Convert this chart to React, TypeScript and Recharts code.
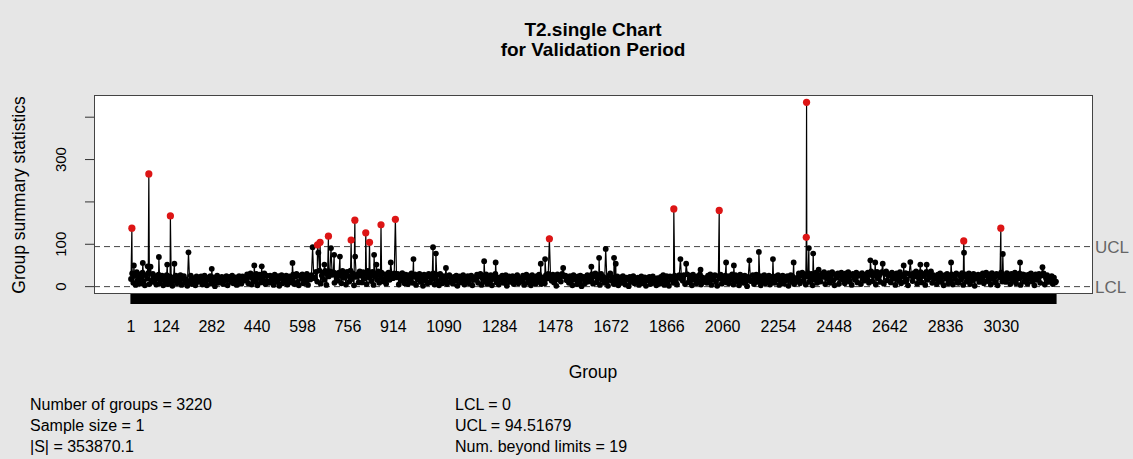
import React from "react";
import { ComposedChart, Line, XAxis, YAxis, ReferenceLine } from "recharts";

// ---- data ----
const N_GROUPS = 3220;
const UCL = 94.51679;
const LCL = 0;
const X_TICK_LABELS = [1, 124, 282, 440, 598, 756, 914, 1090, 1284, 1478, 1672, 1866, 2060, 2254, 2448, 2642, 2836, 3030];
const Y_TICKS = [0, 100, 200, 300, 400];
const Y_TICK_LABELS = [0, 100, 300];

// dense body of the chart, one reading every BASE_STEP groups starting at group 1
const BASE_START = 1;
const BASE_STEP = 4;
const BASE_VALUES = [
  18,31,9,26,4,34,15,29,7,22,33,12,3,27,19,32,6,24,14,30,
  11,25,5,20,28,8,16,26,3,22,13,27,6,18,24,10,2,21,15,26,
  8,22,14,27,4,19,25,9,17,2,23,12,26,6,20,15,3,24,11,21,
  13,24,5,19,26,10,3,21,16,25,7,14,22,1,18,26,9,20,12,23,
  6,21,15,25,3,18,23,11,26,8,16,22,4,19,25,12,7,24,14,20,
  17,29,8,23,31,5,19,27,12,30,3,21,28,10,24,15,31,6,26,13,
  9,26,14,22,4,28,17,11,25,2,20,27,8,23,13,26,5,19,24,10,
  15,28,6,24,30,11,3,26,19,29,8,22,14,30,4,25,17,27,9,21,
  20,35,12,29,38,7,26,33,16,37,4,30,24,36,11,28,34,9,31,22,
  14,33,27,8,37,21,30,5,35,25,12,38,18,31,3,34,23,29,10,36,
  26,10,34,19,31,6,37,22,28,13,35,4,30,24,16,36,9,27,33,18,
  12,29,7,24,33,16,3,27,20,31,9,22,30,5,26,14,32,18,8,28,
  19,6,27,14,31,9,23,29,4,25,17,30,11,21,2,28,15,24,8,30,
  10,26,18,31,5,22,28,13,3,30,20,8,25,16,29,6,23,27,12,19,
  7,23,14,26,2,19,24,10,17,27,5,21,12,25,8,20,26,3,16,22,
  16,28,9,24,30,4,20,26,12,29,7,22,15,27,3,25,18,30,10,21,
  5,22,17,26,9,14,27,2,20,24,11,18,25,6,23,13,27,8,19,15,
  12,26,4,21,28,9,17,24,3,27,14,20,7,25,11,28,16,6,22,18,
  8,27,19,30,5,23,14,28,10,25,2,29,17,21,12,30,6,24,26,15,
  20,9,25,14,3,27,17,22,6,24,11,26,1,19,23,8,15,27,12,21,
  13,29,7,24,31,10,20,27,4,30,16,23,9,28,18,2,26,31,14,22,
  6,20,12,24,3,17,22,9,25,14,5,21,18,1,23,11,16,25,8,19,
  10,21,4,17,24,8,13,22,2,19,15,23,6,12,24,9,18,3,20,14,
  7,23,15,27,4,19,25,11,2,24,17,21,9,26,13,5,22,27,12,18,
  14,27,6,23,29,10,18,26,3,28,16,21,8,25,12,29,5,22,19,11,
  20,9,26,15,29,4,23,17,27,11,2,25,19,28,7,22,14,26,10,24,
  8,25,17,29,5,21,27,12,19,3,28,14,24,9,26,16,1,23,29,13,
  15,27,6,22,28,11,18,25,3,24,13,27,8,20,16,26,5,23,10,21,
  9,24,17,27,4,20,12,26,7,22,15,25,2,19,27,11,23,6,18,14,
  21,31,8,26,33,14,29,5,24,32,11,19,30,3,27,16,33,9,25,20,
  12,30,23,34,6,27,18,32,9,25,34,15,3,29,21,31,7,26,33,17,
  24,8,31,19,34,12,27,4,30,22,16,33,10,26,29,6,32,20,14,28,
  17,33,9,28,36,13,25,31,5,35,20,27,11,34,23,7,30,36,15,26,
  29,10,33,19,26,4,31,22,14,34,8,27,24,12,32,17,3,30,21,25,
  13,32,24,36,7,28,19,34,10,30,25,4,35,16,29,22,36,9,27,18,
  20,6,28,15,31,11,24,3,27,19,30,8,22,13,29,5,25,18,31,10,
  9,27,17,32,4,23,29,12,20,31,6,26,15,30,2,24,19,28,11,22,
  16,31,8,26,33,13,21,29,5,32,18,24,10,30,3,27,22,33,12,20,
  25,11,32,18,28,6,30,21,14,33,8,26,19,31,4,23,29,12,27,16,
  7,28,19,31,12,24,3,29,16,22,30,9,26,14,31,5,21,27,11,18,
  14,25,6,21,10,
];

// individually readable groups: [group, statistic]
const HIGH_GROUPS = [
  11, 42, 59, 69, 98, 127, 152, 201, 282, 430, 456, 563, 633, 653, 674, 697, 708, 728, 781, 847,
  855, 905, 984, 1052, 1062, 1097, 1230, 1270, 1427, 1442, 1505, 1603, 1630, 1653, 1682, 1688,
  1913, 1933, 1983, 2072, 2099, 2153, 2186, 2235, 2307, 2360, 2375, 2394, 2574, 2591, 2617, 2690,
  2713, 2748, 2770, 2855, 2900, 3035, 3095, 3173, 3220,
];
const HIGH_VALUES = [
  50, 56, 48, 47, 70, 52, 54, 81, 42, 50, 48, 56, 93, 80, 52, 91, 75, 71, 71, 75,
  52, 57, 65, 93, 78, 44, 60, 57, 54, 65, 44, 47, 68, 89, 68, 54,
  65, 54, 40, 57, 50, 62, 82, 65, 57, 91, 78, 40, 62, 57, 54, 50,
  58, 52, 52, 57, 80, 77, 57, 46, 12,
];
// groups beyond the control limits (19)
const OUT_GROUPS = [4, 63, 138, 650, 659, 688, 767, 780, 818, 831, 871, 921, 1457, 1890, 2048, 2351, 2352, 2899, 3028];
const OUT_VALUES = [138, 266, 167, 98.5, 104.7, 119, 110, 157, 127, 104.7, 146, 159, 113, 183.5, 180, 116.5, 435, 108, 138];

const STATS_LEFT = ["Number of groups = 3220", "Sample size = 1", "|S| = 353870.1"];
const STATS_RIGHT = ["LCL = 0", "UCL = 94.51679", "Num. beyond limits = 19"];

// ---- table built from the arrays ----
const byGroup = new Map<number, number>();
BASE_VALUES.forEach((v, k) => byGroup.set(BASE_START + k * BASE_STEP, v));
HIGH_GROUPS.forEach((g, k) => byGroup.set(g, HIGH_VALUES[k]));
OUT_GROUPS.forEach((g, k) => byGroup.set(g, OUT_VALUES[k]));
const rows = Array.from(byGroup.entries())
  .sort((a, b) => a[0] - b[0])
  .map(([g, v]) => ({ g, v, red: v > UCL || v < LCL ? v : null }));

const ALL_GROUP_TICKS = Array.from({ length: N_GROUPS }, (_, k) => k + 1);

const FONT = '"Liberation Sans", Arial, Helvetica, sans-serif';

const XTick = (props: any) => {
  const { x, payload } = props;
  if (!X_TICK_LABELS.includes(payload.value)) return <g />;
  return (
    <text x={x} y={332} textAnchor="middle" fontSize={16} fill="#000" fontFamily={FONT}>
      {payload.value}
    </text>
  );
};

const YTick = (props: any) => {
  const { y, payload } = props;
  if (!Y_TICK_LABELS.includes(payload.value)) return <g />;
  return (
    <text
      x={66}
      y={y}
      textAnchor="middle"
      fontSize={15}
      fill="#000"
      fontFamily={FONT}
      transform={`rotate(-90, 66, ${y})`}
    >
      {payload.value}
    </text>
  );
};

const abs = (s: React.CSSProperties): React.CSSProperties => ({ position: "absolute", ...s });

export default function App() {
  return (
    <div style={abs({ left: 0, top: 0, width: 1133, height: 459, background: "#e6e6e6", fontFamily: FONT, overflow: "hidden" })}>
      <div style={abs({ left: 94, top: 95, width: 999, height: 199, background: "#fff", border: "1px solid #444", boxSizing: "border-box" })} />
      <div style={abs({ left: 0, top: 0 })}>
        <ComposedChart width={1133} height={459} data={rows} margin={{ top: 95, right: 40, bottom: 125, left: 64 }}>
          <XAxis
            dataKey="g"
            type="number"
            domain={[-127.8, 3348.8]}
            allowDataOverflow
            ticks={ALL_GROUP_TICKS}
            interval={0}
            tickSize={10}
            axisLine={false}
            tickLine={{ stroke: "#000", strokeWidth: 1 }}
            tick={<XTick />}
            height={40}
          />
          <YAxis
            type="number"
            domain={[-17.4, 452.4]}
            allowDataOverflow
            ticks={Y_TICKS}
            interval={0}
            tickSize={9}
            axisLine={false}
            tickLine={{ stroke: "#333" }}
            tick={<YTick />}
            width={30}
          />
          <ReferenceLine
            y={UCL}
            stroke="#444"
            strokeDasharray="6 4"
            label={{ value: "UCL", position: "right", fill: "#666", fontSize: 17, offset: 2, fontFamily: FONT }}
          />
          <ReferenceLine
            y={LCL}
            stroke="#444"
            strokeDasharray="6 4"
            label={{ value: "LCL", position: "right", fill: "#666", fontSize: 17, offset: 2, fontFamily: FONT }}
          />
          <Line
            dataKey="v"
            stroke="#000"
            strokeWidth={1.2}
            dot={{ r: 2.9, fill: "#000", stroke: "none" }}
            activeDot={false}
            isAnimationActive={false}
          />
          <Line
            dataKey="red"
            stroke="none"
            dot={{ r: 3.6, fill: "#dd1515", stroke: "none" }}
            activeDot={false}
            connectNulls={false}
            isAnimationActive={false}
          />
        </ComposedChart>
      </div>
      <div style={abs({ left: 393, top: 20, width: 400, textAlign: "center", fontWeight: "bold", fontSize: 19, lineHeight: "20px", color: "#000" })}>
        <div>T2.single Chart</div>
        <div>for Validation Period</div>
      </div>
      <div style={abs({ left: 19, top: 195, transform: "translate(-50%, -50%) rotate(-90deg)", whiteSpace: "nowrap", fontSize: 17.5, color: "#000" })}>
        Group summary statistics
      </div>
      <div style={abs({ left: 493, top: 362, width: 200, textAlign: "center", fontSize: 17.5, lineHeight: "20px", color: "#000" })}>
        Group
      </div>
      <div style={abs({ left: 30, top: 394, fontSize: 16, lineHeight: "21px", color: "#000", whiteSpace: "nowrap" })}>
        {STATS_LEFT.map((s) => (
          <div key={s}>{s}</div>
        ))}
      </div>
      <div style={abs({ left: 455, top: 394, fontSize: 16, lineHeight: "21px", color: "#000", whiteSpace: "nowrap" })}>
        {STATS_RIGHT.map((s) => (
          <div key={s}>{s}</div>
        ))}
      </div>
    </div>
  );
}
